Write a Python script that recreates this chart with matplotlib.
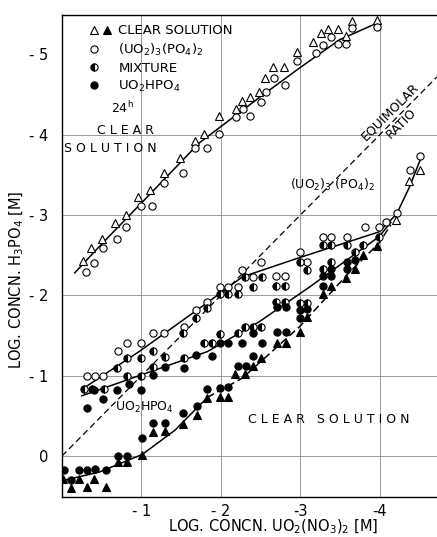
import matplotlib
matplotlib.use("Agg")
import matplotlib.pyplot as plt
import numpy as np
from matplotlib.lines import Line2D
from matplotlib.legend_handler import HandlerTuple

plt.rcParams['font.family'] = ['Liberation Sans Narrow', 'DejaVu Sans']
plt.rcParams['mathtext.fontset'] = 'custom'
plt.rcParams['mathtext.rm'] = 'Liberation Sans Narrow'
plt.rcParams['mathtext.it'] = 'Liberation Sans Narrow'

# log concn UO2(NO3)2 (x) and log concn H3PO4 (y)
# --- upper band: clear solution / (UO2)3(PO4)2 ---
top_tri_x = [-0.26, -0.37, -0.50, -0.67, -0.80, -0.96, -1.11, -1.28, -1.49, -1.68, -1.79, -1.97, -2.19, -2.26,
             -2.37, -2.48, -2.56, -2.66, -2.80, -2.96, -3.16, -3.26, -3.35, -3.48, -3.57, -3.65, -3.97]
top_tri_y = [-2.43, -2.59, -2.70, -2.90, -3.00, -3.23, -3.31, -3.52, -3.71, -3.92, -4.01, -4.23, -4.32, -4.42,
             -4.47, -4.53, -4.71, -4.84, -4.84, -5.03, -5.16, -5.26, -5.31, -5.32, -5.23, -5.42, -5.43]
top_circ_x = [-0.30, -0.40, -0.52, -0.69, -0.81, -1.00, -1.13, -1.28, -1.52, -1.68, -1.82, -1.97, -2.19, -2.28,
              -2.37, -2.50, -2.57, -2.67, -2.81, -2.96, -3.20, -3.28, -3.38, -3.48, -3.58, -3.65, -3.97]
top_circ_y = [-2.29, -2.40, -2.59, -2.70, -2.85, -3.11, -3.11, -3.40, -3.52, -3.84, -3.84, -4.01, -4.22, -4.32,
              -4.23, -4.41, -4.53, -4.71, -4.62, -4.92, -5.02, -5.12, -5.22, -5.13, -5.13, -5.33, -5.34]
top_line_x = [-0.16, -0.50, -1.00, -1.73, -2.48, -2.99, -3.49, -3.99]
top_line_y = [-2.28, -2.64, -3.15, -3.90, -4.46, -4.83, -5.18, -5.40]

# --- lower region ---
circ_x = [-0.31, -0.41, -0.52, -0.70, -0.82, -0.99, -1.15, -1.29, -1.53, -1.69, -1.82, -1.99, -2.09, -2.22,
          -2.27, -2.40, -2.51, -2.69, -2.81, -2.99, -3.09, -3.28, -3.39, -3.59, -3.81, -3.99, -4.08, -4.22,
          -4.38, -4.51]
circ_y = [-1.00, -1.00, -1.00, -1.31, -1.41, -1.41, -1.53, -1.53, -1.61, -1.82, -1.92, -2.10, -2.10, -2.10,
          -2.32, -2.23, -2.42, -2.24, -2.24, -2.54, -2.42, -2.73, -2.73, -2.73, -2.85, -2.85, -2.91, -3.03,
          -3.56, -3.74]
mix_x = [-0.28, -0.38, -0.53, -0.69, -0.82, -0.82, -0.99, -0.99, -1.14, -1.14, -1.30, -1.52, -1.53, -1.69,
         -1.79, -1.82, -1.89, -1.99, -1.99, -2.09, -2.22, -2.21, -2.30, -2.40, -2.51, -2.30, -2.40, -2.52,
         -2.69, -2.81, -2.69, -2.81, -2.99, -3.08, -2.99, -3.09, -3.28, -3.39, -3.59, -3.69, -3.79, -3.28,
         -3.39, -3.99]
mix_y = [-0.83, -0.83, -0.83, -1.10, -1.22, -1.00, -1.22, -1.00, -1.31, -1.11, -1.23, -1.53, -1.22, -1.72,
         -1.41, -1.84, -1.41, -1.52, -2.02, -2.02, -2.02, -1.53, -1.61, -1.61, -1.61, -2.23, -2.10, -2.23,
         -2.12, -2.12, -1.92, -1.92, -2.42, -2.32, -1.91, -1.91, -2.63, -2.63, -2.63, -2.54, -2.63, -2.33,
         -2.42, -2.73]
hpo_x = [-0.32, -0.40, -0.52, -0.69, -0.84, -0.99, -1.15, -1.30, -1.53, -1.69, -1.89, -1.99, -2.09, -2.26,
         -2.40, -2.52, -2.40, -2.22, -2.32, -2.70, -2.82, -2.99, -3.09, -2.99, -2.70, -2.82, -3.28, -3.39,
         -3.39, -3.59, -3.69, -3.59, -3.28,
         -0.02, -0.11, -0.21, -0.31, -0.42, -0.56, -0.70, -0.82, -1.01, -1.15, -1.30, -1.52, -1.70, -1.82,
         -1.99, -2.09]
hpo_y = [-0.60, -0.82, -0.71, -0.82, -0.90, -0.82, -1.01, -1.11, -1.10, -1.26, -1.25, -1.41, -1.41, -1.41,
         -1.53, -1.41, -1.25, -1.12, -1.12, -1.86, -1.86, -1.82, -1.83, -1.72, -1.54, -1.54, -2.24, -2.33,
         -2.24, -2.42, -2.44, -2.33, -2.12,
         0.17, 0.30, 0.17, 0.17, 0.16, 0.17, 0.00, 0.00, -0.22, -0.41, -0.41, -0.54, -0.62, -0.83,
         -0.85, -0.86]
ftri_x = [-0.01, -0.11, -0.22, -0.31, -0.40, -0.56, -0.70, -0.82, -1.01, -1.15, -1.30, -1.52, -1.70, -1.83,
          -1.99, -2.09, -2.18, -2.30, -2.40, -2.51, -2.70, -2.82, -2.99, -3.09, -3.28, -3.39, -3.58, -3.69,
          -3.79, -3.97]
ftri_y = [0.29, 0.40, 0.29, 0.39, 0.29, 0.39, 0.07, 0.07, -0.01, -0.30, -0.31, -0.40, -0.51, -0.72,
          -0.73, -0.73, -1.02, -1.02, -1.12, -1.22, -1.41, -1.41, -1.54, -1.73, -2.02, -2.12, -2.22, -2.33,
          -2.50, -2.62]
otri_x = [-4.21, -4.37, -4.50]
otri_y = [-2.94, -3.42, -3.56]

line1_x = [-0.25, -0.97, -1.83, -2.27, -2.99, -3.99, -4.21, -4.37, -4.51]
line1_y = [-0.83, -1.30, -1.91, -2.23, -2.47, -2.79, -3.01, -3.34, -3.69]
line2_x = [-0.25, -0.97, -1.83, -2.48, -3.11, -3.99, -4.14]
line2_y = [-0.75, -1.00, -1.30, -1.67, -2.10, -2.73, -2.91]
line3_x = [-0.03, -0.47, -1.01, -1.42, -1.83]
line3_y = [0.30, 0.20, -0.02, -0.32, -0.73]
line3d_x = [-1.83, -2.27, -2.99, -3.62, -3.99, -4.14]
line3d_y = [-0.73, -0.97, -1.61, -2.29, -2.65, -2.88]
equi = [0.0, -4.72]

x_ticks = [-1, -2, -3, -4]
x_labels = ['- 1', '- 2', '-3', '-4']
y_ticks = [0, -1, -2, -3, -4, -5]
y_labels = ['0', '- 1', '- 2', '- 3', '- 4', '- 5']

fig = plt.figure(figsize=(4.37, 5.37), dpi=100)
ax = fig.add_axes([62 / 437, 1 - 497 / 537, 375 / 437, 482 / 537])
ax.set_xlim(0, -4.72)
ax.set_ylim(0.51, -5.49)

for v in x_ticks:
    ax.axvline(v, color='0.55', lw=0.6, zorder=0)
for v in y_ticks[:-1]:
    ax.axhline(v, color='0.55', lw=0.6, zorder=0)

lk = dict(color='black', lw=1.1, zorder=2)
ax.plot(top_line_x, top_line_y, **lk)
ax.plot(line1_x, line1_y, **lk)
ax.plot(line2_x, line2_y, **lk)
ax.plot(line3_x, line3_y, **lk)
ax.plot(line3d_x, line3d_y, ls=(0, (5, 2.5)), **lk)
ax.plot(equi, equi, color='black', lw=0.9, ls=(0, (5, 3)), zorder=1)

ms = 5.2
opn = dict(ls='none', mfc='white', mec='black', mew=0.8, ms=ms, zorder=3)
fil = dict(ls='none', mfc='black', mec='black', mew=0.8, ms=ms, zorder=3)
ax.plot(top_tri_x, top_tri_y, marker='^', **opn)
ax.plot(top_circ_x, top_circ_y, marker='o', **opn)
ax.plot(circ_x, circ_y, marker='o', **opn)
ax.plot(mix_x, mix_y, marker='o', fillstyle='left', mfc='black', mfcalt='white', mec='black',
        mew=0.8, ms=ms, ls='none', zorder=3)
ax.plot(hpo_x, hpo_y, marker='o', **fil)
ax.plot(ftri_x, ftri_y, marker='^', **fil)
ax.plot(otri_x, otri_y, marker='^', **opn)

ax.set_xticks(x_ticks)
ax.set_xticklabels(x_labels)
ax.set_yticks(y_ticks)
ax.set_yticklabels(y_labels)
ax.tick_params(length=0, labelsize=10.5)
ax.tick_params(axis='y', pad=10)
ax.tick_params(axis='x', pad=5)
ax.spines['right'].set_visible(False)
for s in ['left', 'top', 'bottom']:
    ax.spines[s].set_linewidth(1.0)

blank = Line2D([], [], ls='none', marker='None')
h_ot = Line2D([], [], marker='^', **opn)
h_ft = Line2D([], [], marker='^', **fil)
h_oc = Line2D([], [], marker='o', **opn)
h_mx = Line2D([], [], marker='o', fillstyle='left', mfc='black', mfcalt='white', mec='black',
              mew=0.8, ms=ms, ls='none')
h_fc = Line2D([], [], marker='o', **fil)
ax.legend([(h_ot, h_ft), (h_oc, blank), (h_mx, blank), (h_fc, blank)],
          ['CLEAR SOLUTION', r'(UO$_2$)$_3$(PO$_4$)$_2$', 'MIXTURE', r'UO$_2$HPO$_4$'],
          handler_map={tuple: HandlerTuple(ndivide=None, pad=0.1)},
          loc='upper left', bbox_to_anchor=(0.045, 1.0), frameon=False, fontsize=9.5,
          handlelength=1.9, handletextpad=0.4, labelspacing=0.32, borderaxespad=0.3)

tk = dict(transform=ax.transAxes, ha='center', va='center', fontsize=9)
ax.text(0.16, 0.807, r'24$^{\mathrm{h}}$', **tk)
ax.text(0.168, 0.761, 'C L E A R', **tk)
ax.text(0.13, 0.722, 'S O L U T I O N', **tk)
ax.text(0.875, 0.80, 'EQUIMOLAR', rotation=45, **tk)
ax.text(0.905, 0.775, 'RATIO', rotation=45, **tk)
ax.text(0.72, 0.647, r'(UO$_2$)$_3$ (PO$_4$)$_2$', **tk)
ax.text(0.22, 0.185, r'UO$_2$HPO$_4$', **tk)
ax.text(0.71, 0.160, 'C L E A R   S O L U T I O N', **tk)

fig.text(17 / 437, 1 - 280 / 537, r'LOG. CONCN. H$_3$PO$_4$ [M]', rotation=90,
         ha='center', va='center', fontsize=10.5)
fig.text(273 / 437, 1 - 527 / 537, r'LOG. CONCN. UO$_2$(NO$_3$)$_2$ [M]',
         ha='center', va='center', fontsize=10.5)

fig.savefig('out.png', dpi=100)
